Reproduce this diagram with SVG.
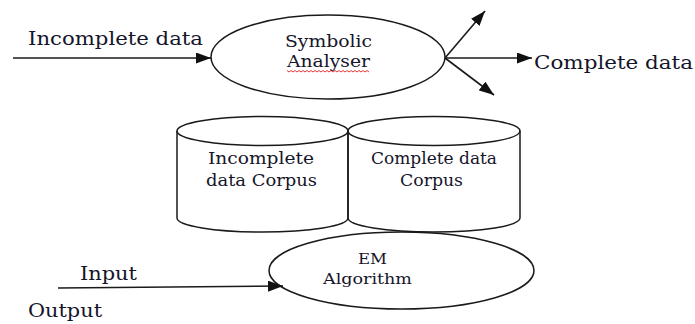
<svg xmlns="http://www.w3.org/2000/svg" width="695" height="324" viewBox="0 0 695 324">
<style>
.shape{fill:none;stroke:#1a1a1a;stroke-width:1.5}
.line{fill:none;stroke:#1a1a1a;stroke-width:1.6}
.t{font-family:"DejaVu Serif","Liberation Serif",serif;fill:#15152a}
.big{font-size:19px}
.mid{font-size:16px}
.sm{font-size:15px}
</style>
<defs>
<marker id="ah" viewBox="0 0 15 11" refX="15" refY="5.5" markerWidth="15" markerHeight="11" markerUnits="userSpaceOnUse" orient="auto">
<path d="M0,0 L15,5.5 L0,11 z" fill="#111"/>
</marker>
</defs>
<rect width="695" height="324" fill="#fff"/>
<g id="symbolic-analyser">
<ellipse class="shape" cx="328" cy="57" rx="117" ry="42"/>
<text class="t mid" x="285" y="47" textLength="87" lengthAdjust="spacingAndGlyphs">Symbolic</text>
<text class="t mid" x="287" y="67" textLength="83" lengthAdjust="spacingAndGlyphs">Analyser</text>
<path d="M287,70.5 l2,1.5 l2,-1.5 l2,1.5 l2,-1.5 l2,1.5 l2,-1.5 l2,1.5 l2,-1.5 l2,1.5 l2,-1.5 l2,1.5 l2,-1.5 l2,1.5 l2,-1.5 l2,1.5 l2,-1.5 l2,1.5 l2,-1.5 l2,1.5 l2,-1.5 l2,1.5 l2,-1.5 l2,1.5 l2,-1.5 l2,1.5 l2,-1.5 l2,1.5 l2,-1.5 l2,1.5 l2,-1.5 l2,1.5 l2,-1.5 l2,1.5 l2,-1.5 l2,1.5 l2,-1.5 l2,1.5 l2,-1.5 l2,1.5 l2,-1.5 l2,1.5" fill="none" stroke="#e02020" stroke-width="0.9"/>
</g>
<g id="incomplete-corpus">
<path class="shape" d="M177,131 L177,218 A85.5,14 0 0 0 348,218 L348,131"/>
<ellipse class="shape" cx="262.5" cy="131" rx="85.5" ry="14.5"/>
<text class="t mid" x="208" y="164" textLength="106" lengthAdjust="spacingAndGlyphs">Incomplete</text>
<text class="t mid" x="206" y="186" textLength="111" lengthAdjust="spacingAndGlyphs">data Corpus</text>
</g>
<g id="complete-corpus">
<path class="shape" d="M348,131 L348,218 A86,14 0 0 0 520,218 L520,131"/>
<ellipse class="shape" cx="434" cy="131" rx="86" ry="14.5"/>
<text class="t mid" x="371" y="164" textLength="126" lengthAdjust="spacingAndGlyphs">Complete data</text>
<text class="t mid" x="400" y="186" textLength="63" lengthAdjust="spacingAndGlyphs">Corpus</text>
</g>
<g id="em-algorithm">
<ellipse class="shape" cx="401.5" cy="270.5" rx="132.5" ry="38.5"/>
<text class="t sm" x="358" y="264" textLength="29" lengthAdjust="spacingAndGlyphs">EM</text>
<text class="t sm" x="323" y="284" textLength="89" lengthAdjust="spacingAndGlyphs">Algorithm</text>
</g>
<g id="labels">
<text class="t big" x="28" y="45" textLength="175" lengthAdjust="spacingAndGlyphs">Incomplete data</text>
<text class="t big" x="534" y="69" textLength="159" lengthAdjust="spacingAndGlyphs">Complete data</text>
<text class="t big" x="80" y="280" textLength="57" lengthAdjust="spacingAndGlyphs">Input</text>
<text class="t big" x="28" y="317" textLength="74" lengthAdjust="spacingAndGlyphs">Output</text>
</g>
<g id="connectors">
<line class="line" x1="13" y1="58" x2="211" y2="58" marker-end="url(#ah)"/>
<line class="line" x1="445" y1="58" x2="485" y2="11" marker-end="url(#ah)"/>
<line class="line" x1="445" y1="58" x2="532" y2="58" marker-end="url(#ah)"/>
<line class="line" x1="445" y1="58" x2="494" y2="95" marker-end="url(#ah)"/>
<line class="line" x1="58" y1="288" x2="283" y2="286" marker-end="url(#ah)"/>
</g>
</svg>
